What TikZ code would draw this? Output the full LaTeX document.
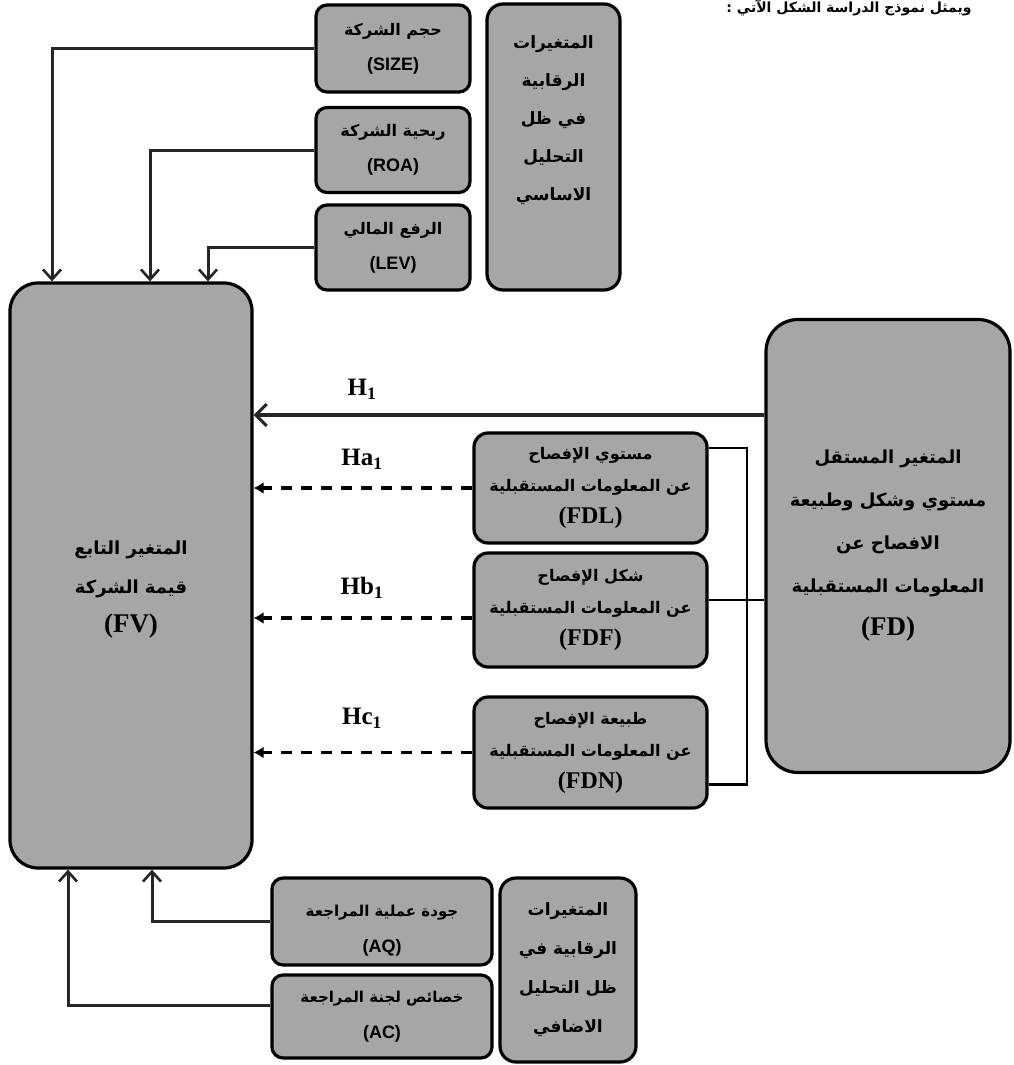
\documentclass[tikz,border=0pt]{standalone}
\usepackage{fontspec}
\usetikzlibrary{arrows.meta}
\TeXXeTstate=1
\newfontfamily\arabicfont[Script=Arabic]{DejaVu Sans}
\newfontfamily\latsans{Liberation Sans}
\newfontfamily\latserif{Liberation Serif}
\definecolor{boxgray}{RGB}{166,166,166}
\newcommand{\AR}[1]{{\arabicfont\bfseries\beginR #1\endR}}
\tikzset{
  gbox/.style={draw=black, line width=3.2pt, fill=boxgray, rounded corners=11pt,
     inner sep=0pt, align=center, text=black},
  conn/.style={draw=black!85, line width=3pt, -{Straight Barb[length=10pt,width=18pt,line width=2.6pt]}},
  hconn/.style={draw=black!85, line width=3.2pt, -{Straight Barb[length=11pt,width=22pt,line width=3pt]}},
  dconn/.style={draw=black, line width=3.8pt, dash pattern=on 11pt off 9pt, -{Latex[length=10pt,width=12pt]}},
  thin/.style={draw=black, line width=2.2pt},
  lab/.style={font=\latserif\bfseries\fontsize{25}{27}\selectfont, inner sep=0pt}
}
\begin{document}
\begin{tikzpicture}[x=1pt,y=-1pt]
\useasboundingbox (0,0) rectangle (1014,1065);
% caption at the top of the page
\node[font=\fontsize{14}{16}\selectfont, anchor=east] (cap) at (975,8) {\AR{ويمثل نموذج الدراسة الشكل الآتي :}};

% dependent variable
\node[gbox, rounded corners=28pt, minimum width=242pt, minimum height=585pt,
      font=\fontsize{18}{39}\selectfont] (FV) at (131,575.5)
  {\rule{0pt}{42pt}\AR{المتغير التابع}\\ \AR{قيمة الشركة}\\ {\latserif\bfseries\fontsize{27}{40}\selectfont (FV)}};

% independent variable
\node[gbox, rounded corners=32pt, minimum width=244pt, minimum height=453pt,
      font=\fontsize{18}{43}\selectfont] (FD) at (888,546)
  {\AR{المتغير المستقل}\\ \AR{مستوي وشكل وطبيعة}\\ \AR{الافصاح عن}\\ \AR{المعلومات المستقبلية}\\ {\latserif\bfseries\fontsize{27}{44}\selectfont (FD)}};

% basic control variables
\node[gbox, minimum width=154pt, minimum height=87pt, font=\fontsize{16}{35}\selectfont] (SIZE) at (393,48.5)
  {\AR{حجم الشركة}\\ {\latsans\bfseries\fontsize{18}{35}\selectfont (SIZE)}};
\node[gbox, minimum width=154pt, minimum height=85pt, font=\fontsize{16}{35}\selectfont] (ROA) at (393,150)
  {\AR{ربحية الشركة}\\ {\latsans\bfseries\fontsize{18}{35}\selectfont (ROA)}};
\node[gbox, minimum width=154pt, minimum height=85pt, font=\fontsize{16}{35}\selectfont] (LEV) at (393,247.5)
  {\AR{الرفع المالي}\\ {\latsans\bfseries\fontsize{18}{35}\selectfont (LEV)}};
\node[gbox, rounded corners=16pt, minimum width=133pt, minimum height=286pt, font=\fontsize{17}{38}\selectfont] (CT) at (553.5,147)
  {\AR{المتغيرات}\\ \AR{الرقابية}\\ \AR{في ظل}\\ \AR{التحليل}\\ \AR{الاساسي}\\[20pt]};

% dimensions of FD
\node[gbox, rounded corners=14pt, minimum width=233pt, minimum height=110pt, font=\fontsize{16}{32}\selectfont] (FDL) at (590.5,488)
  {\AR{مستوي الإفصاح}\\ \AR{عن المعلومات المستقبلية}\\ {\latserif\bfseries\fontsize{24}{33}\selectfont (FDL)}};
\node[gbox, rounded corners=14pt, minimum width=233pt, minimum height=114pt, font=\fontsize{16}{32}\selectfont] (FDF) at (590.5,610)
  {\AR{شكل الإفصاح}\\ \AR{عن المعلومات المستقبلية}\\ {\latserif\bfseries\fontsize{24}{33}\selectfont (FDF)}};
\node[gbox, rounded corners=14pt, minimum width=233pt, minimum height=111pt, font=\fontsize{16}{32}\selectfont] (FDN) at (590.5,752.5)
  {\AR{طبيعة الإفصاح}\\ \AR{عن المعلومات المستقبلية}\\ {\latserif\bfseries\fontsize{24}{33}\selectfont (FDN)}};

% additional control variables
\node[gbox, minimum width=220pt, minimum height=87pt, font=\fontsize{15}{36}\selectfont] (AQ) at (382,921.5)
  {\rule{0pt}{30pt}\AR{جودة عملية المراجعة}\\ {\latsans\bfseries\fontsize{18}{36}\selectfont (AQ)}};
\node[gbox, minimum width=220pt, minimum height=83pt, font=\fontsize{15}{36}\selectfont] (AC) at (382,1016.5)
  {\AR{خصائص لجنة المراجعة}\\ {\latsans\bfseries\fontsize{18}{36}\selectfont (AC)}};
\node[gbox, rounded corners=16pt, minimum width=136pt, minimum height=184pt, font=\fontsize{17}{39}\selectfont] (CB) at (568,970)
  {\AR{المتغيرات}\\ \AR{الرقابية في}\\ \AR{ظل التحليل}\\ \AR{الاضافي}};

% helper coordinates
\coordinate (x1) at (52,0);
\coordinate (x2) at (150,0);
\coordinate (x3) at (208,0);
\coordinate (x4) at (68,0);
\coordinate (x5) at (152,0);
\coordinate (h1) at (0,415);
\coordinate (acw) at ([yshift=11pt]AC.west);
\coordinate (fdfw) at ([yshift=-8pt]FDF.west);

% control connectors
\draw[conn] (SIZE.west) -| (x1 |- FV.north);
\draw[conn] (ROA.west) -| (x2 |- FV.north);
\draw[conn] (LEV.west) -| (x3 |- FV.north);
\draw[conn] (AQ.west) -| (x5 |- FV.south);
\draw[conn] (acw) -| (x4 |- FV.south);

% hypotheses
\draw[hconn] (FD.west |- h1) -- (FV.east |- h1);
\draw[dconn] (FDL.west) -- (FV.east |- FDL.west);
\draw[dconn] (fdfw) -- (FV.east |- fdfw);
\draw[dconn] (FDN.west) -- (FV.east |- FDN.west);

\node[lab] (L1) at (362,389) {H\textsubscript{1}};
\node[lab] (L2) at (362,459) {Ha\textsubscript{1}};
\node[lab] (L3) at (362,588) {Hb\textsubscript{1}};
\node[lab] (L4) at (362,718) {Hc\textsubscript{1}};

% bracket grouping the dimensions
\coordinate (bt) at ([yshift=40pt]FDL.east);
\coordinate (bb) at ([yshift=-32pt]FDN.east);
\coordinate (bm) at ([yshift=10pt]FDF.east);
\draw[thin] (bt) -- ++(38,0) |- (bb);
\draw[thin] (bm) -- (bm -| FD.west);
\end{tikzpicture}
\end{document}
